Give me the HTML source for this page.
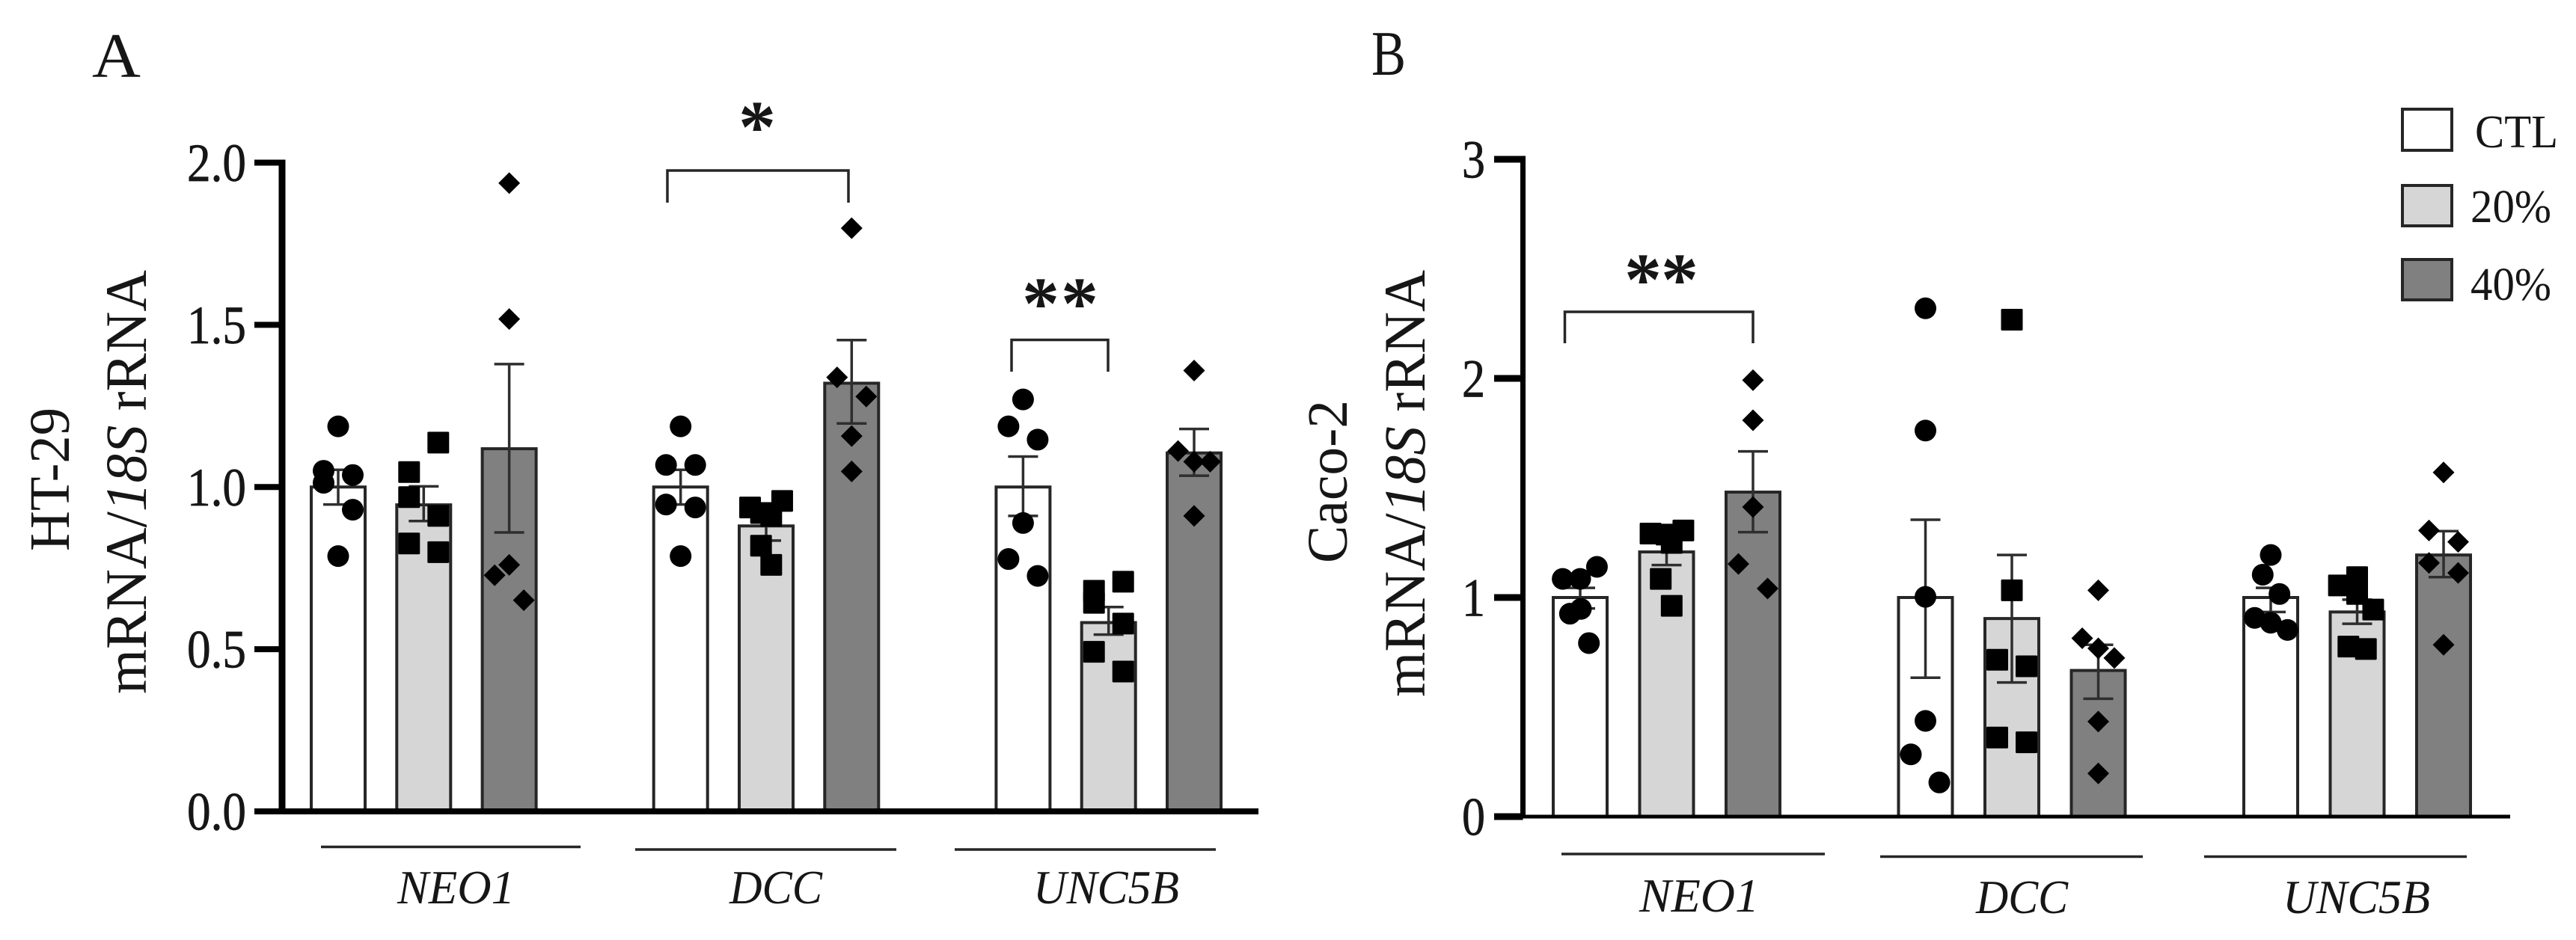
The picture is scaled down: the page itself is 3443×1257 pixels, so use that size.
<!DOCTYPE html>
<html lang="en">
<head>
<meta charset="utf-8">
<title>HT-29 and Caco-2 mRNA expression</title>
<style>
  html, body { margin: 0; padding: 0; background: #fff; }
  svg { display: block; }
  text { font-family: "Liberation Serif", serif; fill: #161616; }
  .tick { font-size: 72px; text-anchor: end; stroke: #161616; stroke-width: 0.7px; }
  .title { font-size: 76px; }
  .title-long { font-size: 78px; }
  .gene { font-size: 64px; font-style: italic; }
  .panel { font-size: 85px; }
  .legend { font-size: 62px; }
  .star { font-size: 100px; font-weight: bold; text-anchor: middle; }
</style>
</head>
<body>
<svg id="figure" xmlns="http://www.w3.org/2000/svg" width="3443" height="1257" viewBox="0 0 3443 1257">
  <rect width="3443" height="1257" fill="#fff"/>

  <text class="panel" x="123" y="103" textLength="65" lengthAdjust="spacingAndGlyphs">A</text>
  <text class="panel" x="1833" y="100" textLength="46" lengthAdjust="spacingAndGlyphs">B</text>

  <text class="title" transform="translate(92 737) rotate(-90)" textLength="192" lengthAdjust="spacingAndGlyphs">HT-29</text>
  <text class="title-long" transform="translate(195 928) rotate(-90)" textLength="567" lengthAdjust="spacingAndGlyphs">mRNA/<tspan font-style="italic">18S</tspan> rRNA</text>
  <text class="title" transform="translate(1800 753) rotate(-90)" textLength="218" lengthAdjust="spacingAndGlyphs">Caco-2</text>
  <text class="title-long" transform="translate(1904 932) rotate(-90)" textLength="571" lengthAdjust="spacingAndGlyphs">mRNA/<tspan font-style="italic">18S</tspan> rRNA</text>

  <g id="panel-a"></g>
  <g id="panel-b"></g>

  <g fill="none" stroke="#262626" stroke-width="3.5">
    <path d="M892 271V228H1134V271"/>
    <path d="M1352 497V454.5H1481V497"/>
    <path d="M2091.5 459V417H2343V459"/>
  </g>
  <text class="star" x="1012" y="203">*</text>
  <text class="star" x="1391" y="439">*</text>
  <text class="star" x="1443" y="439">*</text>
  <text class="star" x="2196" y="407">*</text>
  <text class="star" x="2245" y="407">*</text>

  <g stroke="#262626" stroke-width="3.5">
    <line x1="429" x2="776" y1="1132.5" y2="1132.5"/>
    <line x1="849" x2="1198" y1="1136" y2="1136"/>
    <line x1="1276" x2="1625" y1="1136" y2="1136"/>
    <line x1="2087" x2="2439" y1="1142" y2="1142"/>
    <line x1="2513" x2="2864" y1="1145.5" y2="1145.5"/>
    <line x1="2946" x2="3297" y1="1145.5" y2="1145.5"/>
  </g>

  <text class="gene" x="531" y="1208" textLength="157" lengthAdjust="spacingAndGlyphs">NEO1</text>
  <text class="gene" x="975" y="1208" textLength="124" lengthAdjust="spacingAndGlyphs">DCC</text>
  <text class="gene" x="1381" y="1208" textLength="195" lengthAdjust="spacingAndGlyphs">UNC5B</text>
  <text class="gene" x="2191" y="1219" textLength="160" lengthAdjust="spacingAndGlyphs">NEO1</text>
  <text class="gene" x="2641" y="1221" textLength="123" lengthAdjust="spacingAndGlyphs">DCC</text>
  <text class="gene" x="3051" y="1221" textLength="197" lengthAdjust="spacingAndGlyphs">UNC5B</text>

  <g>
    <g>
      <rect x="3211" y="146" width="66" height="55" fill="#fff" stroke="#262626" stroke-width="4"/>
      <text class="legend" x="3308" y="197" textLength="111" lengthAdjust="spacingAndGlyphs">CTL</text>
    </g>
    <g>
      <rect x="3211" y="248" width="66" height="54" fill="#d6d6d6" stroke="#262626" stroke-width="4"/>
      <text class="legend" x="3302" y="297" textLength="108" lengthAdjust="spacingAndGlyphs">20%</text>
    </g>
    <g>
      <rect x="3211" y="347" width="66" height="54" fill="#808080" stroke="#262626" stroke-width="4"/>
      <text class="legend" x="3302" y="401" textLength="108" lengthAdjust="spacingAndGlyphs">40%</text>
    </g>
  </g>
</svg>

<script>
// ---- Data ----
const categories = ['NEO1', 'DCC', 'UNC5B'];
const seriesNames = ['CTL', '20%', '40%'];

const aTickValues = [0, 0.5, 1, 1.5, 2];
const aTickLabels = ['0.0', '0.5', '1.0', '1.5', '2.0'];
const bTickValues = [0, 1, 2, 3];
const bTickLabels = ['0', '1', '2', '3'];

// Rows: gene; columns: CTL, 20%, 40%
const aMeans = [[1.0, 0.945, 1.118], [1.0, 0.88, 1.32], [1.0, 0.582, 1.105]];
const aErrHigh = [[1.053, 1.002, 1.379], [1.053, 0.925, 1.453], [1.094, 0.63, 1.179]];
const aErrLow = [[0.946, 0.895, 0.86], [0.946, 0.835, 1.196], [0.911, 0.545, 1.035]];

const aPoints = [
  [[1.187, 1.05, 1.037, 1.013, 0.93, 0.787], [1.137, 1.046, 0.969, 0.911, 0.826, 0.799], [1.937, 1.518, 0.76, 0.728, 0.651]],
  [[1.187, 1.068, 1.068, 0.946, 0.937, 0.787], [0.957, 0.937, 0.92, 0.911, 0.819, 0.76], [1.798, 1.338, 1.279, 1.157, 1.048]],
  [[1.27, 1.187, 1.146, 0.889, 0.778, 0.726], [0.708, 0.68, 0.643, 0.579, 0.492, 0.431], [1.359, 1.111, 1.078, 1.078, 0.911]]
];
// Swarm column of each point, in marker-spacing units
const aSwarm = [
  [[0, -1, 1, -1, 1, 0], [1, -1, -1, 1, -1, 1], [0, 0, 0, -1, 1]],
  [[0, -1, 1, -1, 1, 0], [1.1, -1.1, -0.35, 0.35, -0.35, 0.35], [0, -1, 1, 0, 0]],
  [[0, -1, 1, 0, -1, 1], [1, -1, -1, 1, -1, 1], [0, -1.1, 0, 1.1, 0]]
];

const bMeans = [[1.0, 1.208, 1.481], [1.0, 0.904, 0.667], [1.0, 0.934, 1.194]];
const bErrHigh = [[1.044, 1.268, 1.667], [1.355, 1.194, 0.784], [1.044, 0.99, 1.303]];
const bErrLow = [[0.95, 1.148, 1.298], [0.634, 0.612, 0.538], [0.934, 0.88, 1.093]];

const bPoints = [
  [[1.14, 1.085, 1.085, 0.948, 0.926, 0.792], [1.292, 1.287, 1.306, 1.249, 1.085, 0.962], [1.992, 1.809, 1.413, 1.153, 1.041]],
  [[2.32, 1.762, 1.003, 0.437, 0.284, 0.156], [2.268, 1.033, 0.716, 0.686, 0.361, 0.339], [1.033, 0.814, 0.768, 0.724, 0.434, 0.197]],
  [[1.194, 1.104, 1.016, 0.907, 0.885, 0.852], [1.093, 1.055, 1.016, 0.945, 0.776, 0.765], [1.571, 1.306, 1.254, 1.158, 1.112, 0.784]]
];
const bSwarm = [
  [[1.15, -1.2, 0, 0.05, -0.7, 0.6], [-1.1, 0, 1.15, 0.35, -0.4, 0.35], [0, 0, 0, -1, 1]],
  [[0, 0, 0, 0, -1, 0.95], [0, 0, -1, 1, -1, 1], [0, -1.1, 0, 1.1, 0, 0]],
  [[0, -0.55, 0.6, -1.1, 0, 1.15], [0, -1.25, 0, 1.1, -0.6, 0.6], [0, -1, 1, -1, 1, 0]]
];

// ---- Drawing ----
const SVG_NS = 'http://www.w3.org/2000/svg';
const fills = ['#ffffff', '#d6d6d6', '#808080'];
const shapeNames = ['circle', 'square', 'diamond'];

function make(tag, parent) {
  const el = document.createElementNS(SVG_NS, tag);
  parent.appendChild(el);
  return el;
}
function setAll(el, attrs) {
  for (const k in attrs) el.setAttribute(k, attrs[k]);
}

function drawMarker(parent, kind, cx, cy, label) {
  let m;
  if (kind === 0) {
    m = make('circle', parent);
    setAll(m, { cx: cx, cy: cy, r: 14.5 });
  } else if (kind === 1) {
    m = make('rect', parent);
    setAll(m, { x: cx - 14.5, y: cy - 14.5, width: 29, height: 29, rx: 1.5 });
  } else {
    m = make('path', parent);
    setAll(m, { d: 'M' + cx + ' ' + (cy - 14.5) + 'L' + (cx + 14.5) + ' ' + cy + 'L' + cx + ' ' + (cy + 14.5) + 'L' + (cx - 14.5) + ' ' + cy + 'Z' });
  }
  m.setAttribute('fill', '#000');
  
  
}

function drawPanel(root, prefix, geo, tickValues, tickLabels, means, errHigh, errLow, points, swarm) {
  const y = v => geo.y0 - v * geo.unit;
  const x = (g, s) => geo.x0 + g * geo.groupStep + s * geo.barStep;

  tickValues.forEach((v, i) => {
    const t = make('line', root);
    setAll(t, { x1: geo.tickX, x2: geo.axisX, y1: y(v), y2: y(v), stroke: '#000', 'stroke-width': geo.tickW });
    
    
    const l = make('text', root);
    setAll(l, { class: 'tick', x: geo.labelX, y: y(v) + 24.5, textLength: geo.labelW, lengthAdjust: 'spacingAndGlyphs' });
    l.textContent = tickLabels[i];
    
    
  });

  categories.forEach((cat, g) => {
    seriesNames.forEach((ser, s) => {
      const cx = x(g, s);
      const tag = prefix + '-' + cat.toLowerCase() + '-' + ser.replace('%', '').toLowerCase();

      const bar = make('rect', root);
      setAll(bar, { x: cx - 36, y: y(means[g][s]), width: 72, height: geo.y0 - y(means[g][s]), fill: fills[s], stroke: '#262626', 'stroke-width': 4 });
      
      

      const err = make('path', root);
      const hi = y(errHigh[g][s]);
      const lo = y(errLow[g][s]);
      setAll(err, { d: 'M' + (cx - 20) + ' ' + hi + 'H' + (cx + 20) + 'M' + cx + ' ' + hi + 'V' + lo + 'M' + (cx - 20) + ' ' + lo + 'H' + (cx + 20), fill: 'none', stroke: '#2e2e2e', 'stroke-width': 3.5 });
      
      

      points[g][s].forEach((v, p) => {
        drawMarker(root, s, cx + swarm[g][s][p] * geo.swarmUnit, y(v), shapeNames[s] + '-point-' + tag);
      });
    });
  });

  const yAxis = make('line', root);
  setAll(yAxis, { x1: geo.axisX, x2: geo.axisX, y1: y(tickValues[tickValues.length - 1]) - geo.tickW / 2, y2: geo.y0 + geo.xW / 2, stroke: '#000', 'stroke-width': geo.axisW });
  
  

  const xAxis = make('line', root);
  setAll(xAxis, { x1: geo.tickX, x2: geo.xEnd, y1: geo.y0, y2: geo.y0, stroke: '#000', 'stroke-width': geo.xW });
  
  
}

drawPanel(document.getElementById('panel-a'), 'a',
  { y0: 1085, unit: 433.75, x0: 452, groupStep: 457.7, barStep: 114.3, swarmUnit: 19.5, axisX: 377, axisW: 9, tickX: 340, tickW: 8, labelX: 329, labelW: 79, xEnd: 1682, xW: 8 },
  aTickValues, aTickLabels, aMeans, aErrHigh, aErrLow, aPoints, aSwarm);

drawPanel(document.getElementById('panel-b'), 'b',
  { y0: 1092, unit: 293, x0: 2112, groupStep: 461.5, barStep: 115.5, swarmUnit: 19.5, axisX: 2035.5, axisW: 7, tickX: 1997, tickW: 9, labelX: 1985, labelW: 31, xEnd: 3355, xW: 5 },
  bTickValues, bTickLabels, bMeans, bErrHigh, bErrLow, bPoints, bSwarm);
</script>
</body>
</html>
